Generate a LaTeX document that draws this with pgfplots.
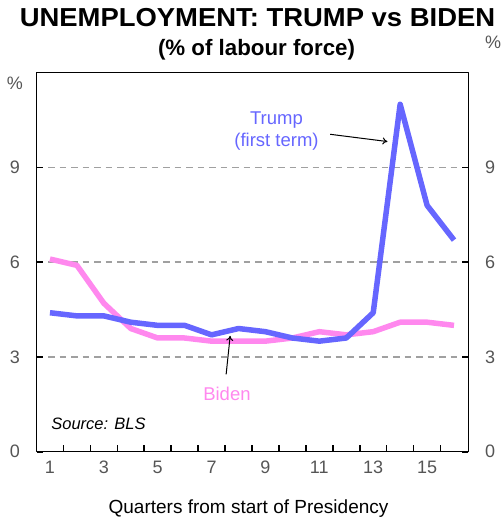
\documentclass[border=0pt]{standalone}
\usepackage{fontspec}
\setmainfont{Liberation Sans}
\usepackage{graphicx}
\usepackage{pgfplots}
\pgfplotsset{compat=1.18}
\usetikzlibrary{arrows.meta}
\definecolor{trumpc}{RGB}{102,102,255}
\definecolor{bidenc}{RGB}{255,136,238}
\definecolor{tickc}{RGB}{85,85,85}
\definecolor{gridc}{RGB}{160,160,160}
\begin{document}
\begin{tikzpicture}
\path[use as bounding box] (-36.5bp,-65.3bp) rectangle (466.5bp,451.7bp);
\begin{axis}[
  at={(0,0)}, anchor=south west,
  scale only axis, width=431.8bp, height=379bp,
  xmin=0.5, xmax=16.53, ymin=0, ymax=12,
  axis line style={line width=1.3bp, black},
  tick align=inside,
  tick style={line width=1.6bp, black},
  major tick length=6.5bp,
  minor tick length=6.5bp,
  xtick pos=lower, ytick pos=left,
  xtick={1,3,...,15},
  minor xtick={1.5,2.5,...,15.5},
  major x tick style={draw=none},
  ytick={0,3,6,9},
  ymajorgrids=true,
  grid style={gridc, line width=1.5bp, dash pattern=on 6.5bp off 5bp},
  /pgf/number format/assume math mode=true,
  x tick label style={font=\fontsize{18bp}{21bp}\selectfont, text=tickc, anchor=north, inner sep=0pt, yshift=-9bp},
  y tick label style={font=\fontsize{18bp}{21bp}\selectfont, text=tickc, anchor=east, inner sep=0pt, xshift=-16.5bp},
  line join=round,
]
\addplot[bidenc, line width=5.5bp] coordinates {
(1,6.1)(2,5.9)(3,4.7)(4,3.9)(5,3.6)(6,3.6)(7,3.5)(8,3.5)(9,3.5)(10,3.6)(11,3.8)(12,3.7)(13,3.8)(14,4.1)(15,4.1)(16,4.0)};
\addplot[trumpc, line width=5.5bp] coordinates {
(1,4.4)(2,4.3)(3,4.3)(4,4.1)(5,4.0)(6,4.0)(7,3.7)(8,3.9)(9,3.8)(10,3.6)(11,3.5)(12,3.6)(13,4.4)(14,11.0)(15,7.8)(16,6.7)};
\draw[-{To[length=5bp,width=7bp]}, line width=1bp, black] (axis cs:11.40,10.05) -- (axis cs:13.53,9.82);
\draw[-{To[length=5bp,width=7bp]}, line width=1bp, black] (axis cs:7.54,2.45) -- (axis cs:7.69,3.67);
\node[text=trumpc, align=center, font=\fontsize{18.5bp}{21.7bp}\selectfont, inner sep=0pt] at (axis cs:9.41,10.16) {Trump\\(first term)};
\node[text=bidenc, font=\fontsize{18.5bp}{21.7bp}\selectfont, inner sep=0pt] at (axis cs:7.57,1.82) {Biden};
\node[font=\itshape\fontsize{16.5bp}{20bp}\selectfont, inner sep=0pt] at (axis cs:2.80,0.88) {Source: BLS};
\end{axis}
\begin{axis}[
  at={(0,0)}, anchor=south west,
  scale only axis, width=431.8bp, height=379bp,
  xmin=0.5, xmax=16.53, ymin=0, ymax=12,
  axis x line=none, axis y line*=right,
  axis line style={line width=1.3bp, black, -},
  tick align=inside,
  tick style={line width=1.6bp, black},
  major tick length=6.5bp,
  ytick={0,3,6,9},
  /pgf/number format/assume math mode=true,
  y tick label style={font=\fontsize{18bp}{21bp}\selectfont, text=tickc, anchor=west, inner sep=0pt, xshift=16.5bp},
]
\addplot[draw=none] coordinates {(1,0)};
\end{axis}
\node[anchor=base, inner sep=0pt, font=\bfseries\fontsize{26bp}{30bp}\selectfont] at (221bp,425.2bp) {\scalebox{1.055}[1]{UNEMPLOYMENT: TRUMP vs BIDEN}};
\node[anchor=base, inner sep=0pt, font=\bfseries\fontsize{22.3bp}{26bp}\selectfont] at (220bp,395.7bp) {(\% of labour force)};
\node[anchor=base, inner sep=0pt, font=\fontsize{19bp}{22bp}\selectfont] at (212bp,-61.8bp) {Quarters from start of Presidency};
\node[inner sep=0pt, text=tickc, font=\fontsize{18bp}{21bp}\selectfont] at (-21.5bp,368.7bp) {\%};
\node[inner sep=0pt, text=tickc, font=\fontsize{18bp}{21bp}\selectfont] at (456.5bp,409.7bp) {\%};
\end{tikzpicture}
\end{document}
